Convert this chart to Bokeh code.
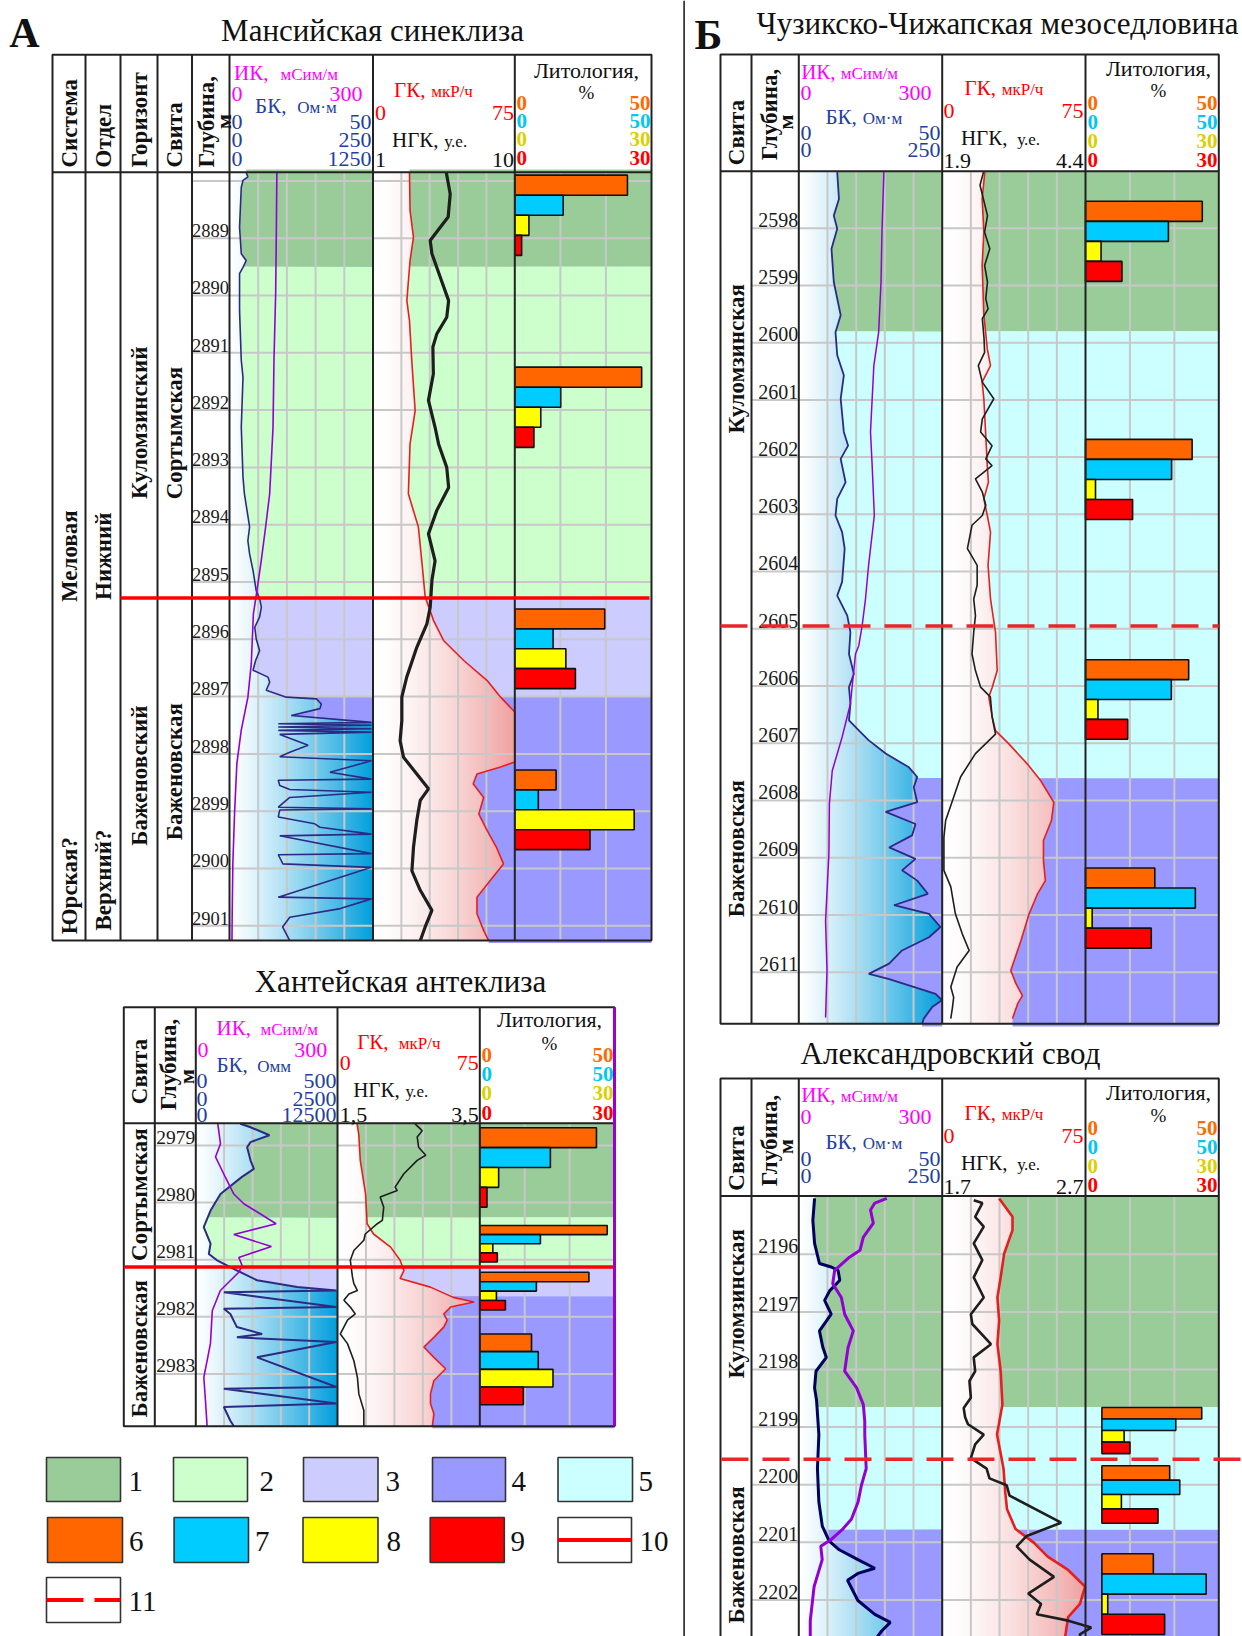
import numpy as np
from bokeh.plotting import figure
from bokeh.models import Range1d
from bokeh.embed import file_html
from bokeh.resources import INLINE
from bokeh.core.properties import value

# ======================= DATA =======================
FACIES_COLORS = {1: "#99CC99", 2: "#CCFFCC", 3: "#CCCCFF", 4: "#9999FF", 5: "#CCFFFF"}
LITHO_COLORS = ["#FF6600", "#00CCFF", "#FFFF00", "#FF0000"]
LEGEND_LABELS = ["1", "2", "3", "4", "5", "6", "7", "8", "9", "10", "11"]

# ---- A: Мансийская синеклиза
A_TITLE = "Мансийская синеклиза"
A_IK_SCALE = (0, 300)
A_BK_SCALES = [(0, 50), (0, 250), (0, 1250)]
A_GK_SCALE = (0, 75)
A_NGK_SCALE = (1, 10)
A_TICKS = list(range(2888, 2902))
A_LABELS = list(range(2889, 2902))
A_FACIES = [(2887.8, 2889.5, 1), (2889.5, 2895.28, 2), (2895.28, 2897.0, 3), (2897.0, 2901.3, 4)]
A_BOUNDARY = 2895.28
A_BK_FULL_FROM = 2897.45
A_IK_D = [2887.85, 2888.81, 2889.97, 2891.13, 2892.30, 2893.46, 2894.04, 2894.62, 2895.15, 2895.55,
          2896.43, 2897.01, 2897.59, 2898.17, 2899.05, 2899.92, 2900.79, 2901.26]
A_IK = [99, 98, 96.5, 93, 91, 84, 75.5, 66.5, 57.4, 50, 45.5, 38.5, 24.5, 15.4, 10.5, 7, 5.6, 5.2]
A_BK_D = [2887.85, 2887.93, 2887.99, 2888.11, 2888.81, 2889.27, 2889.39, 2889.51, 2889.62, 2890.26,
          2891.13, 2891.43, 2892.30, 2893.17, 2893.46, 2894.04, 2894.28, 2894.51, 2894.80, 2895.15,
          2895.29, 2895.44, 2895.61, 2895.79, 2895.99, 2896.20, 2896.37, 2896.54, 2896.66, 2896.75,
          2896.89, 2897.01, 2897.04, 2897.13, 2897.21, 2897.33, 2897.45,
          2897.475, 2897.50, 2897.53, 2897.56, 2897.59, 2897.62, 2897.66, 2897.77, 2897.85, 2897.97,
          2898.05, 2898.12, 2898.32, 2898.44, 2898.46, 2898.55, 2898.62, 2898.67, 2898.76, 2898.93,
          2898.96, 2898.98, 2899.10, 2899.22, 2899.28, 2899.40, 2899.43, 2899.74, 2899.76, 2899.92,
          2899.98, 2900.50, 2900.53, 2900.70, 2900.85, 2901.02, 2901.26]
A_BK = [5.8, 6.4, 4.7, 4.1, 3.5, 4.1, 5.8, 4.7, 3.5, 3.5,
        4.1, 4.7, 4.1, 4.7, 5.2, 7.0, 6.4, 7.0, 8.2, 9.3,
        10.5, 11.1, 10.5, 8.8, 9.3, 10.5, 9.1, 8.2, 13.4, 14.0,
        12.8, 19.8, 30.3, 32.0, 31.5, 21.5, 49.5,
        17.0, 49.5, 17.0, 49.5, 17.0, 49.5, 17.5, 23.3, 27.4, 21.0,
        17.5, 49.5, 35.0, 49.5, 17.0, 17.5, 21.0, 49.5, 21.0, 17.0,
        49.5, 17.5, 17.0, 29.7, 31.5, 49.5, 17.5, 49.5, 17.0, 18.6,
        49.5, 17.0, 49.5, 38.6, 21.0, 18.5, 21.0]
A_GK_D = [2887.85, 2888.52, 2888.98, 2889.39, 2890.09, 2890.44, 2891.13, 2892.01, 2892.59, 2893.46,
          2894.04, 2894.63, 2895.26, 2895.67, 2896.02, 2896.37, 2896.72, 2897.01, 2897.27, 2898.14,
          2898.23, 2898.35, 2898.52, 2898.76, 2899.05, 2899.34, 2899.63, 2899.92, 2900.21, 2900.50,
          2900.79, 2901.08, 2901.26]
A_GK = [19.3, 19.6, 21.4, 19.6, 17.9, 19.3, 20.5, 22.3, 19.6, 18.7,
        24.0, 25.8, 27.6, 32.0, 37.3, 48.0, 60.4, 67.5, 75.0, 75.0,
        67.5, 55.0, 53.0, 58.5, 56.0, 60.4, 65.3, 69.0, 62.0, 55.0,
        55.0, 58.5, 61.2]
A_NGK_D = [2887.85, 2888.23, 2888.63, 2888.81, 2889.04, 2889.27, 2889.68, 2890.09, 2890.38, 2890.67,
           2890.90, 2891.37, 2891.83, 2892.30, 2892.59, 2893.00, 2893.35, 2893.75, 2894.16, 2894.63,
           2894.97, 2895.44, 2895.73, 2896.14, 2896.66, 2897.01, 2897.42, 2897.77, 2898.06, 2898.35,
           2898.61, 2898.81, 2899.16, 2899.63, 2900.04, 2900.38, 2900.73, 2901.02, 2901.26]
A_NGK = [5.65, 5.90, 5.77, 5.27, 4.63, 4.74, 5.27, 5.80, 5.68, 5.05,
         4.80, 4.83, 4.52, 4.94, 5.16, 5.68, 5.80, 5.05, 4.52, 4.94,
         4.74, 4.63, 4.42, 3.78, 3.14, 2.83, 2.83, 2.72, 2.94, 3.78,
         4.52, 4.00, 3.78, 3.57, 3.47, 4.00, 4.74, 4.31, 4.00]
A_LI_TOP = [2887.90, 2891.25, 2895.47, 2898.28]
A_LI_BOT = [2889.30, 2892.65, 2896.86, 2899.67]
A_ORANGE = [41.2, 46.4, 32.9, 15.1]
A_CYAN = [17.7, 16.8, 14.0, 8.6]
A_YELLOW = [3.1, 5.7, 11.2, 26.2]
A_RED = [1.5, 4.2, 13.3, 16.5]

# ---- K: Хантейская антеклиза
K_TITLE = "Хантейская антеклиза"
K_IK_SCALE = (0, 300)
K_BK_SCALES = [(0, 500), (0, 2500), (0, 12500)]
K_GK_SCALE = (0, 75)
K_NGK_SCALE = (1.5, 3.5)
K_TICKS = [2979, 2980, 2981, 2982, 2983]
K_LABELS = [2979, 2980, 2981, 2982, 2983]
K_FACIES = [(2978.6, 2980.26, 1), (2980.26, 2981.13, 2), (2981.13, 2981.64, 3), (2981.64, 2983.95, 4)]
K_BOUNDARY = 2981.13
K_BK_FULL_FROM = 2981.54
K_IK_D = [2978.62, 2978.97, 2979.20, 2979.56, 2979.85, 2980.02, 2980.20, 2980.37, 2980.56, 2980.77,
          2980.96, 2981.10, 2981.22, 2981.54, 2981.89, 2982.47, 2983.06, 2983.47, 2983.92]
K_IK = [46.6, 52.3, 41.7, 62.8, 80.5, 101.7, 137, 170, 80.5, 160, 91, 98, 91, 52, 35, 31, 17, 20.5, 24]
K_BK_D = [2978.62, 2978.68, 2978.82, 2978.94, 2979.03, 2979.26, 2979.41, 2979.55, 2979.85, 2980.14,
          2980.43, 2980.72, 2980.90, 2981.01, 2981.19, 2981.36, 2981.48, 2981.54, 2981.57, 2981.83,
          2981.86, 2981.95, 2982.18, 2982.30, 2982.36, 2982.44, 2982.71, 2983.23, 2983.26, 2983.52,
          2983.58, 2983.82, 2983.92]
K_BK = [157, 193, 260, 193, 181, 193, 205, 163, 87, 52,
        28, 52, 46, 75, 146, 216, 358, 496, 99, 496,
        99, 122, 145, 234, 145, 496, 216, 496, 99, 496,
        99, 122, 135]
K_GK_D = [2978.62, 2978.80, 2979.26, 2979.85, 2980.37, 2980.55, 2980.78, 2981.01, 2981.19, 2981.33,
          2981.48, 2981.66, 2981.74, 2981.83, 2981.95, 2982.06, 2982.18, 2982.36, 2982.53, 2982.71,
          2982.91, 2983.12, 2983.35, 2983.52, 2983.70, 2983.92]
K_GK = [10.3, 11.2, 12.0, 14.8, 15.6, 19.0, 28.0, 33.0, 35.0, 33.0,
        49.0, 61.0, 72.0, 59.6, 56.0, 57.8, 56.0, 50.8, 45.5, 50.8,
        57.0, 50.8, 49.0, 49.0, 50.8, 50.0]
K_NGK_D = [2978.62, 2978.74, 2978.85, 2979.03, 2979.17, 2979.26, 2979.50, 2979.73, 2979.79, 2979.90,
           2980.08, 2980.31, 2980.37, 2980.55, 2980.66, 2980.84, 2981.01, 2981.30, 2981.42, 2981.54,
           2981.60, 2981.71, 2981.83, 2981.95, 2982.06, 2982.30, 2982.47, 2982.77, 2983.06, 2983.35,
           2983.64, 2983.92]
K_NGK = [2.59, 2.69, 2.62, 2.64, 2.74, 2.62, 2.43, 2.31, 2.34, 2.10,
         2.15, 2.13, 2.06, 1.89, 1.87, 1.73, 1.68, 1.71, 1.73, 1.78,
         1.66, 1.59, 1.68, 1.75, 1.64, 1.54, 1.64, 1.73, 1.78, 1.80,
         1.87, 1.87]
K_LI_TOP = [2978.69, 2980.40, 2981.22, 2982.30]
K_LI_BOT = [2980.08, 2981.04, 2981.88, 2983.54]
K_ORANGE = [43.3, 47.3, 40.5, 19.2]
K_CYAN = [26.2, 22.5, 21.0, 21.7]
K_YELLOW = [4.2, 2.9, 3.7, 16.3]
K_RED = [1.6, 3.9, 5.7, 9.7]

# ---- B: Чузикско-Чижапская мезоседловина
B_TITLE = "Чузикско-Чижапская мезоседловина"
B_IK_SCALE = (0, 300)
B_BK_SCALES = [(0, 50), (0, 250)]
B_GK_SCALE = (0, 75)
B_NGK_SCALE = (1.9, 4.4)
B_TICKS = list(range(2598, 2612))
B_LABELS = list(range(2598, 2612))
B_FACIES = [(2597.0, 2599.8, 1), (2599.8, 2607.61, 5), (2607.61, 2611.95, 4)]
B_BOUNDARY = 2604.95
B_IK_D = [2597.02, 2598.07, 2598.94, 2599.82, 2600.40, 2600.98, 2601.56, 2602.15, 2603.02, 2603.89,
          2604.48, 2604.94, 2605.29, 2605.44, 2606.31, 2606.89, 2607.48, 2608.06, 2608.93, 2610.10,
          2610.97, 2611.79]
B_IK = [178, 174, 172, 167, 157, 153.5, 150, 153.5, 158, 146,
        139.5, 132.6, 125.6, 118.6, 108, 90.7, 70, 64, 63, 56,
        59, 56]
B_BK_D = [2597.02, 2597.49, 2597.78, 2598.01, 2598.36, 2598.94, 2599.52, 2599.82, 2600.22, 2600.57,
          2600.98, 2601.56, 2601.80, 2602.03, 2602.44, 2602.73, 2603.02, 2603.31, 2603.60, 2604.18,
          2604.42, 2604.77, 2605.06, 2605.44, 2605.79, 2606.02, 2606.31, 2606.60, 2606.78, 2606.95,
          2607.18, 2607.42, 2607.59, 2607.77, 2608.03, 2608.20, 2608.41, 2608.61, 2608.82, 2609.02,
          2609.22, 2609.40, 2609.63, 2609.83, 2609.98, 2610.21, 2610.39, 2610.62, 2610.85, 2611.03,
          2611.12, 2611.38, 2611.49, 2611.61, 2611.81, 2611.90]
B_BK = [13.4, 14.0, 12.2, 13.4, 11.4, 12.2, 14.6, 12.8, 13.4, 15.7,
        14.6, 15.7, 17.2, 14.6, 16.3, 13.4, 12.8, 15.1, 16.0, 15.1,
        13.4, 16.9, 18.0, 17.5, 19.2, 17.5, 18.0, 17.5, 21.0, 24.4,
        30.3, 38.4, 41.3, 40.1, 41.3, 30.3, 40.7, 39.5, 31.5, 40.7,
        36.0, 41.3, 45.0, 33.2, 45.4, 49.4, 45.4, 36.0, 31.5, 24.4,
        31.5, 47.7, 49.9, 46.5, 43.6, 43.0]
B_GK_D = [2597.02, 2597.49, 2598.07, 2598.65, 2599.52, 2600.11, 2600.40, 2600.69, 2600.98, 2601.56,
          2602.15, 2602.44, 2602.73, 2603.02, 2603.31, 2603.89, 2604.48, 2605.06, 2605.73, 2606.02,
          2606.19, 2606.54, 2606.78, 2607.01, 2607.36, 2607.65, 2608.03, 2608.35, 2608.70, 2609.05,
          2609.40, 2609.63, 2609.98, 2610.45, 2610.97, 2611.20, 2611.41, 2611.55, 2611.81]
B_GK = [22.3, 20.9, 21.8, 20.9, 21.8, 23.6, 25.3, 20.9, 21.8, 22.7,
        23.6, 24.2, 21.8, 23.6, 25.3, 24.0, 25.3, 27.9, 28.8, 26.2,
        24.4, 26.2, 27.9, 34.9, 44.5, 51.5, 58.4, 57.2, 53.0, 53.0,
        54.0, 49.9, 45.5, 41.2, 35.9, 38.6, 42.0, 39.5, 36.8]
B_NGK_D = [2597.02, 2597.25, 2597.78, 2598.07, 2598.36, 2598.65, 2598.94, 2599.23, 2599.41, 2599.58,
           2599.93, 2600.17, 2600.40, 2600.69, 2600.98, 2601.33, 2601.56, 2601.80, 2602.03, 2602.15,
           2602.38, 2602.61, 2602.84, 2603.02, 2603.19, 2603.60, 2603.89, 2604.24, 2604.48, 2604.77,
           2605.06, 2605.44, 2605.73, 2606.02, 2606.19, 2606.54, 2606.84, 2607.18, 2607.59, 2608.00,
           2608.35, 2608.64, 2609.22, 2609.51, 2609.98, 2610.33, 2610.62, 2610.91, 2611.26, 2611.44,
           2611.61, 2611.81]
B_NGK = [2.62, 2.56, 2.69, 2.64, 2.73, 2.64, 2.69, 2.66, 2.70, 2.60,
         2.63, 2.64, 2.53, 2.60, 2.80, 2.60, 2.57, 2.77, 2.66, 2.77,
         2.48, 2.60, 2.66, 2.60, 2.42, 2.34, 2.51, 2.51, 2.45, 2.48,
         2.45, 2.42, 2.48, 2.57, 2.74, 2.77, 2.83, 2.48, 2.22, 2.08,
         1.96, 1.93, 1.93, 2.05, 2.13, 2.25, 2.37, 2.16, 2.05, 2.10,
         2.08, 2.05]
B_LI_TOP = [2597.53, 2601.69, 2605.54, 2609.18]
B_LI_BOT = [2598.93, 2603.09, 2606.93, 2610.58]
B_ORANGE = [43.8, 40.0, 38.7, 26.0]
B_CYAN = [31.1, 32.3, 32.2, 41.2]
B_YELLOW = [3.5, 2.25, 2.8, 1.5]
B_RED = [8.2, 10.6, 9.5, 14.8]

# ---- C: Александровский свод
C_TITLE = "Александровский свод"
C_IK_SCALE = (0, 300)
C_BK_SCALES = [(0, 50), (0, 250)]
C_GK_SCALE = (0, 75)
C_NGK_SCALE = (1.7, 2.7)
C_TICKS = list(range(2196, 2204))
C_LABELS = list(range(2196, 2203))
C_FACIES = [(2195.0, 2198.65, 1), (2198.65, 2200.78, 5), (2200.78, 2203.9, 4)]
C_BOUNDARY = 2199.56
C_IK_D = [2195.03, 2195.11, 2195.23, 2195.46, 2195.70, 2195.93, 2196.05, 2196.28, 2196.51, 2196.75,
          2197.04, 2197.33, 2197.62, 2198.03, 2198.32, 2198.61, 2198.90, 2199.13, 2199.72, 2200.01,
          2200.30, 2200.60, 2200.77, 2200.95, 2201.07, 2201.30, 2201.77, 2202.36, 2202.70]
C_IK = [184, 159, 150, 156, 135, 128, 106, 75, 71, 89,
        96, 114, 103, 96, 121, 135, 138, 138, 141, 131,
        124, 110, 92, 68, 46, 49, 32, 24, 24]
C_BK_D = [2195.03, 2195.41, 2195.81, 2196.16, 2196.22, 2196.28, 2196.45, 2196.63, 2196.80, 2197.04,
          2197.33, 2197.62, 2197.79, 2198.03, 2198.32, 2198.54, 2199.13, 2199.72, 2200.30, 2200.72,
          2200.98, 2201.13, 2201.30, 2201.45, 2201.54, 2201.66, 2202.01, 2202.25, 2202.39, 2202.54,
          2202.70]
C_BK = [5.5, 4.9, 5.5, 7.2, 11.3, 13.7, 14.3, 10.8, 9.0, 11.3,
        7.2, 8.4, 9.6, 6.0, 5.5, 6.2, 7.0, 6.5, 7.0, 8.2,
        10.6, 14.1, 20.6, 26.5, 20.6, 17.0, 20.6, 26.5, 31.9, 28.9,
        26.5]
C_GK_D = [2195.03, 2195.35, 2195.58, 2195.99, 2196.40, 2196.75, 2197.15, 2197.56, 2198.03, 2198.61,
          2199.13, 2199.72, 2200.13, 2200.42, 2200.77, 2201.01, 2201.25, 2201.48, 2201.77, 2202.07,
          2202.30, 2202.70]
C_GK = [29.8, 36.8, 36.8, 32.4, 30.6, 28.9, 29.8, 28.9, 30.6, 31.5,
        28.7, 32.1, 33.0, 33.9, 38.4, 48.1, 55.2, 65.9, 74.8, 72.1,
        65.9, 64.1]
C_NGK_D = [2195.06, 2195.11, 2195.35, 2195.52, 2195.81, 2196.10, 2196.40, 2196.75, 2197.04, 2197.21,
           2197.56, 2197.79, 2198.03, 2198.20, 2198.49, 2198.67, 2198.83, 2198.95, 2199.13, 2199.30,
           2199.54, 2199.72, 2199.89, 2200.01, 2200.19, 2200.66, 2200.89, 2201.07, 2201.30, 2201.60,
           2201.89, 2202.07, 2202.25, 2202.36, 2202.48, 2202.60, 2202.70]
C_NGK = [1.92, 1.98, 1.93, 1.99, 1.92, 1.98, 1.92, 1.99, 1.90, 1.91,
         2.04, 1.92, 1.93, 1.89, 1.90, 1.85, 1.86, 1.88, 1.99, 1.93,
         1.90, 2.01, 2.03, 2.15, 2.17, 2.53, 2.29, 2.22, 2.31, 2.48,
         2.30, 2.39, 2.36, 2.58, 2.74, 2.66, 2.67]
C_LI_TOP = [2198.66, 2199.67, 2201.20]
C_LI_BOT = [2199.46, 2200.67, 2202.60]
C_ORANGE = [42.7, 29.0, 22.0]
C_CYAN = [31.6, 33.3, 44.6]
C_YELLOW = [5.7, 5.0, 1.5]
C_RED = [7.2, 14.4, 16.1]

# ======================= FIGURE =======================
W, H = 1242, 1636
FONT = "Liberation Serif"
MAG, BLU, RED, BLK = "#FF00FF", "#1E40A0", "#FF0000", "#111111"
NUMC = ["#FF6A00", "#00C8F0", "#DCD000", "#FF0000"]
GRID = "#C8C8C8"
EDGE = "#222222"
MID = 0.34  # em offset from alphabetic baseline to the em-box middle

p = figure(width=W, height=H, x_range=Range1d(0, W), y_range=Range1d(H, 0),
           toolbar_location=None, output_backend="svg", min_border=0,
           x_axis_location=None, y_axis_location=None)
p.xgrid.visible = False
p.ygrid.visible = False
p.outline_line_color = None
p.background_fill_color = "white"
p.border_fill_color = "white"

XR, YR = {}, {}


def xrange(a, b, v0, v1):
    k = (v1 - v0) / (b - a)
    return Range1d(start=v0 - a * k, end=v0 + (W - a) * k)


def yrange(y0, d0, ppm):
    return Range1d(start=d0 + (H - y0) / ppm, end=d0 + (0 - y0) / ppm)


def T(x, y, s, size, color=BLK, align="left", base="alphabetic", bold=False, angle=0.0, **kw):
    # baseline positions are converted to em-box middles (rendered reliably)
    if base == "alphabetic":
        y = y - MID * size
        base = "middle"
    p.text(x=[x], y=[y], text=[s], text_font=value(FONT), text_font_size=f"{size}px",
           text_color=color, text_align=align, text_baseline=base,
           text_font_style="bold" if bold else "normal", angle=angle, **kw)


def hexc(rgb):
    return "#%02x%02x%02x" % tuple(int(round(max(0, min(255, c)))) for c in rgb)


def gradient(x0, x1, ytop, ybot, end_rgb, gamma, n=60):
    edges = np.linspace(x0, x1, n + 1)
    t = (np.arange(n) + 0.5) / n
    f = t ** gamma
    end = np.array(end_rgb, dtype=float)
    cols = [hexc(255 + fi * (end - 255)) for fi in f]
    rights = np.minimum(edges[1:] + 0.8, x1)
    p.quad(left=edges[:-1], right=rights, top=ytop, bottom=ybot, fill_color=cols, line_color=None)


def seg(ds, vs, d0, d1):
    ds = np.asarray(ds, float)
    vs = np.asarray(vs, float)
    inner = ds[(ds > d0) & (ds < d1)]
    yy = np.concatenate([[d0], inner, [d1]])
    return yy, np.interp(yy, ds, vs)


def panel(key, L, D):
    yn = key + "_y"
    YR[yn] = yrange(L["y0"], L["d0"], L["ppm"])
    ik0, ik1 = L["ik"]
    gk0, gk1 = L["gk"]
    li0, li1 = L["li"]
    bk_max = D["bk_scales"][0][1]
    XR[key + "_ik"] = xrange(ik0, ik1, *D["ik_scale"])
    XR[key + "_bk"] = xrange(ik0, ik1, *D["bk_scales"][0])
    XR[key + "_gk"] = xrange(gk0, gk1, *D["gk_scale"])
    XR[key + "_ngk"] = xrange(gk0, gk1, *D["ngk_scale"])
    XR[key + "_l50"] = xrange(L["lz"], li1, 0, 50)
    XR[key + "_l30"] = xrange(L["lz"], li1, 0, 30)
    top, bot = L["hdr"], L["bot"]

    gradient(ik0, ik1, top, bot, (0, 158, 220), 1.2)
    gradient(gk0, gk1, top, bot, (240, 160, 160), 1.5)

    bk_d = np.asarray(D["bk_d"], float)
    bk_env = np.asarray(D["bk"], float)
    if D.get("bk_full") is not None:
        bk_env = np.where(bk_d >= D["bk_full"], bk_max, bk_env)
    for d0, d1, c in D["facies"]:
        col = FACIES_COLORS[c]
        yy, xx = seg(bk_d, bk_env, d0, d1)
        p.harea(y=yy, x1=xx, x2=np.full_like(xx, bk_max), fill_color=col,
                x_range_name=key + "_bk", y_range_name=yn)
        yy, xx = seg(D["gk_d"], D["gk"], d0, d1)
        p.harea(y=yy, x1=xx, x2=np.full_like(xx, D["gk_scale"][1]), fill_color=col,
                x_range_name=key + "_gk", y_range_name=yn)
        p.quad(left=li0, right=li1, top=d0, bottom=d1, fill_color=col, line_color=None,
               y_range_name=yn)

    vx = list(np.linspace(ik0, ik1, 6)[1:-1]) + list(np.linspace(gk0, gk1, 6)[1:-1]) + \
        list(np.linspace(li0, li1, 4)[1:-1])
    p.segment(x0=vx, y0=[top] * len(vx), x1=vx, y1=[bot] * len(vx), line_color=GRID, line_width=2)
    ticks = D["ticks"]
    p.segment(x0=[L["dep"][0]] * len(ticks), y0=ticks, x1=[L["out"][1]] * len(ticks), y1=ticks,
              line_color=GRID, line_width=2, y_range_name=yn)

    lw = L["lw"]
    p.line(x=D["bk"], y=D["bk_d"], line_color=L["bkc"], line_width=lw[0],
           x_range_name=key + "_bk", y_range_name=yn)
    p.line(x=D["ik"], y=D["ik_d"], line_color="#9400D3", line_width=lw[1],
           x_range_name=key + "_ik", y_range_name=yn)
    p.line(x=D["gk"], y=D["gk_d"], line_color="#E81E1E", line_width=lw[2],
           x_range_name=key + "_gk", y_range_name=yn)
    p.line(x=D["ngk"], y=D["ngk_d"], line_color="#1E1E1E", line_width=lw[3],
           x_range_name=key + "_ngk", y_range_name=yn)

    tops = np.asarray(D["li_top"], float)
    bots = np.asarray(D["li_bot"], float)
    h = (bots - tops) / 4.0
    for i, (vals, rn) in enumerate([(D["orange"], "_l50"), (D["cyan"], "_l50"),
                                    (D["yellow"], "_l30"), (D["red"], "_l30")]):
        p.quad(left=[0] * len(vals), right=vals, top=tops + i * h, bottom=tops + (i + 1) * h,
               fill_color=LITHO_COLORS[i], line_color="#111111", line_width=1.6,
               x_range_name=key + rn, y_range_name=yn)

    x_a, x_b = L["out"]
    p.quad(left=x_a, right=x_b, top=L["top"], bottom=bot, fill_color=None,
           line_color=EDGE, line_width=2)
    p.segment(x0=[x_a], y0=[top], x1=[x_b], y1=[top], line_color=EDGE, line_width=2)
    cx = L["cols"]
    p.segment(x0=cx, y0=[L["top"]] * len(cx), x1=cx, y1=[bot] * len(cx),
              line_color=EDGE, line_width=2)

    labs = D["labels"]
    fs = L["dfs"]
    p.text(x=[L["dep"][1] - 0.5] * len(labs), y=[d - (1.5 + MID * fs) / L["ppm"] for d in labs],
           text=[str(d) for d in labs], text_font=value(FONT), text_font_size=f"{fs}px",
           text_color="#1a1a1a", text_align="right", text_baseline="middle",
           y_range_name=yn)


LAY = {
    "A": dict(out=(52, 651), top=54.3, hdr=171.7, bot=940, cols=[85, 120, 157, 191.5, 229, 372.5, 514.3],
              dep=(191.5, 229), ik=(229, 372.5), gk=(372.5, 514.3), li=(514.3, 651), lz=514.3,
              y0=237.7, d0=2889, ppm=57.3, lw=(1.6, 1.6, 1.6, 3.2), bkc="#2B2B85", dfs=18.5),
    "K": dict(out=(123.3, 614), top=1006.7, hdr=1122.7, bot=1425.7, cols=[154.3, 195.3, 337, 479.3],
              dep=(154.3, 195.3), ik=(195.3, 337), gk=(337, 479.3), li=(479.3, 614), lz=479.3,
              y0=1145, d0=2979, ppm=57.1, lw=(2.0, 1.6, 1.6, 1.6), bkc="#2B2B85", dfs=19.5),
    "B": dict(out=(720, 1218.3), top=54, hdr=170.7, bot=1023.3, cols=[751, 798.3, 941.7, 1085],
              dep=(751, 798.3), ik=(798.3, 941.7), gk=(941.7, 1085), li=(1085, 1218.3), lz=1085,
              y0=227.7, d0=2598, ppm=57.23, lw=(1.8, 1.5, 1.6, 1.6), bkc="#2B2B85", dfs=20),
    "C": dict(out=(720, 1218.3), top=1078, hdr=1195.4, bot=1660, cols=[751, 798.3, 941.7, 1085],
              dep=(751, 798.3), ik=(798.3, 941.7), gk=(941.7, 1085), li=(1085, 1218.3), lz=1101.4,
              y0=1253.8, d0=2196, ppm=57.6, lw=(3.0, 3.0, 2.6, 2.6), bkc="#00005E", dfs=20),
}

DATA = {
    "A": dict(ik_scale=A_IK_SCALE, bk_scales=A_BK_SCALES, gk_scale=A_GK_SCALE, ngk_scale=A_NGK_SCALE,
              ticks=A_TICKS, labels=A_LABELS, facies=A_FACIES, bk_full=A_BK_FULL_FROM,
              ik_d=A_IK_D, ik=A_IK, bk_d=A_BK_D, bk=A_BK, gk_d=A_GK_D, gk=A_GK, ngk_d=A_NGK_D, ngk=A_NGK,
              li_top=A_LI_TOP, li_bot=A_LI_BOT, orange=A_ORANGE, cyan=A_CYAN, yellow=A_YELLOW, red=A_RED),
    "K": dict(ik_scale=K_IK_SCALE, bk_scales=K_BK_SCALES, gk_scale=K_GK_SCALE, ngk_scale=K_NGK_SCALE,
              ticks=K_TICKS, labels=K_LABELS, facies=K_FACIES, bk_full=K_BK_FULL_FROM,
              ik_d=K_IK_D, ik=K_IK, bk_d=K_BK_D, bk=K_BK, gk_d=K_GK_D, gk=K_GK, ngk_d=K_NGK_D, ngk=K_NGK,
              li_top=K_LI_TOP, li_bot=K_LI_BOT, orange=K_ORANGE, cyan=K_CYAN, yellow=K_YELLOW, red=K_RED),
    "B": dict(ik_scale=B_IK_SCALE, bk_scales=B_BK_SCALES, gk_scale=B_GK_SCALE, ngk_scale=B_NGK_SCALE,
              ticks=B_TICKS, labels=B_LABELS, facies=B_FACIES, bk_full=None,
              ik_d=B_IK_D, ik=B_IK, bk_d=B_BK_D, bk=B_BK, gk_d=B_GK_D, gk=B_GK, ngk_d=B_NGK_D, ngk=B_NGK,
              li_top=B_LI_TOP, li_bot=B_LI_BOT, orange=B_ORANGE, cyan=B_CYAN, yellow=B_YELLOW, red=B_RED),
    "C": dict(ik_scale=C_IK_SCALE, bk_scales=C_BK_SCALES, gk_scale=C_GK_SCALE, ngk_scale=C_NGK_SCALE,
              ticks=C_TICKS, labels=C_LABELS, facies=C_FACIES, bk_full=None,
              ik_d=C_IK_D, ik=C_IK, bk_d=C_BK_D, bk=C_BK, gk_d=C_GK_D, gk=C_GK, ngk_d=C_NGK_D, ngk=C_NGK,
              li_top=C_LI_TOP, li_bot=C_LI_BOT, orange=C_ORANGE, cyan=C_CYAN, yellow=C_YELLOW, red=C_RED),
}

for k in ["A", "K", "B", "C"]:
    panel(k, LAY[k], DATA[k])

# boundary lines
p.segment(x0=[120], y0=[A_BOUNDARY], x1=[649], y1=[A_BOUNDARY], line_color="#FF0000",
          line_width=3.5, y_range_name="A_y")
p.segment(x0=[123.3], y0=[K_BOUNDARY], x1=[614], y1=[K_BOUNDARY], line_color="#FF0000",
          line_width=3.5, y_range_name="K_y")
p.segment(x0=[720], y0=[B_BOUNDARY], x1=[1218.3], y1=[B_BOUNDARY], line_color="#E8262C",
          line_width=3.5, line_dash="27 14", y_range_name="B_y")
p.segment(x0=[721], y0=[C_BOUNDARY], x1=[1242], y1=[C_BOUNDARY], line_color="#E8262C",
          line_width=3.5, line_dash="27 14", y_range_name="C_y")

p.segment(x0=[614], y0=[1006.7], x1=[614], y1=[1425.7], line_color="#9900CC", line_width=3)
p.segment(x0=[683.6], y0=[0], x1=[683.6], y1=[1640], line_color="#222222", line_width=1.6)

# ---------------- titles ----------------
T(24, 47, "А", 42, bold=True, align="center")
T(372, 41, A_TITLE, 31, align="center")
T(708, 49, "Б", 42, bold=True, align="center")
T(997, 34, B_TITLE, 31, align="center")
T(400, 992, K_TITLE, 31, align="center")
T(950, 1064, C_TITLE, 31, align="center")

R90 = np.pi / 2

for x, s in [(68.5, "Система"), (102.5, "Отдел"), (138.5, "Горизонт"), (174.3, "Свита"), (206, "Глубина,")]:
    T(x, 167, s, 23, bold=True, angle=R90, align="left", base="middle")
T(222.5, 121, "м", 22, bold=True, angle=R90, align="center", base="middle")
T(138.8, 1071, "Свита", 23, bold=True, angle=R90, align="center", base="middle")
T(167.5, 1064, "Глубина,", 23, bold=True, angle=R90, align="center", base="middle")
T(185.5, 1076, "м", 22, bold=True, angle=R90, align="center", base="middle")
for yS, yG, ym in [(132, 114, 121.5), (1157.5, 1140, 1146)]:
    T(735.5, yS, "Свита", 23, bold=True, angle=R90, align="center", base="middle")
    T(769.4, yG, "Глубина,", 23, bold=True, angle=R90, align="center", base="middle")
    T(785, ym, "м", 22, bold=True, angle=R90, align="center", base="middle")

LS, US = 21, 17  # label / unit font sizes


def track_header(ik_lab, bk_lab, bk_unit, ik_row, bk_rows, gk_lab, ngk_row, li_lab, li_rows,
                 ik_scale, bk_scales, gk_scale, ngk_txt):
    x, xu, y = ik_lab
    T(x, y, "ИК,", LS, MAG)
    T(max(xu, x + 1.69 * LS + 4), y, "мСим/м", US, MAG)
    xl, xr, y = ik_row
    T(xl, y, str(ik_scale[0]), 22, MAG)
    T(xr, y, str(ik_scale[1]), 22, MAG, align="right")
    x, xu, y = bk_lab
    T(x, y, "БК,", LS, BLU)
    T(max(xu, x + 1.58 * LS + 4), y, bk_unit, US, BLU)
    xl, xr, ys = bk_rows
    for (a, b), yy in zip(bk_scales, ys):
        T(xl, yy, str(a), 22, BLU)
        T(xr, yy, str(b), 22, BLU, align="right")
    x, xu, y, xl, xr, y2 = gk_lab
    T(x, y, "ГК,", LS, RED)
    T(max(xu, x + 1.58 * LS + 4), y, "мкР/ч", US, RED)
    T(xl, y2, str(gk_scale[0]), 22, RED)
    T(xr, y2, str(gk_scale[1]), 22, RED, align="right")
    x, xu, y, y2 = ngk_row
    T(x, y, "НГК,", LS)
    T(max(xu, x + 2.3 * LS + 4), y, "у.е.", US)
    T(xl, y2, ngk_txt[0], 22)
    T(xr, y2, ngk_txt[1], 22, align="right")
    xc, y1, y2 = li_lab
    T(xc, y1, "Литология,", 22, align="center")
    T(xc, y2, "%", 19, align="center")
    xl, xr, ys = li_rows
    for c, hi, yy in zip(NUMC, ["50", "50", "30", "30"], ys):
        T(xl, yy, "0", 21, c, bold=True)
        T(xr, yy, hi, 21, c, bold=True, align="right")


track_header((233.6, 280, 80), (254.6, 296.7, 113), "Ом·м", (231, 362, 101), (231, 371, [129, 147, 166]),
             (393.5, 429.3, 97, 374.5, 513.5, 120), (391.5, 437.7, 147, 167), (586, 77, 98),
             (516, 650, [110, 127.5, 146, 165]), A_IK_SCALE, A_BK_SCALES, A_GK_SCALE, ("1", "10"))
track_header((216, 260, 1035), (216, 256.7, 1071.7), "Омм", (197, 326.7, 1056.7),
             (196, 336, [1088.3, 1105.7, 1121.7]),
             (356.7, 398.3, 1048.3, 339.3, 478.3, 1070), (352.7, 403.3, 1096.7, 1121.7), (549, 1026.7, 1049.3),
             (481, 613, [1061.7, 1080.7, 1100, 1119.3]), K_IK_SCALE, K_BK_SCALES, K_GK_SCALE, ("1,5", "3,5"))
track_header((800.7, 833.7, 78.3), (825, 858, 123.3), "Ом·м", (800, 931, 100), (800, 940, [140, 156.7]),
             (964, 998.6, 95, 943, 1083, 118.3), (960.4, 1016.7, 145, 168), (1158, 75, 96.7),
             (1087, 1217, [110, 128.3, 147.3, 166.7]), B_IK_SCALE, B_BK_SCALES, B_GK_SCALE, ("1.9", "4.4"))
track_header((800.7, 833.7, 1102), (825, 858, 1149), "Ом·м", (800, 931, 1124), (800, 940, [1166, 1183]),
             (964, 998.6, 1120, 943, 1083, 1143), (960.4, 1016.7, 1170, 1193.5), (1158, 1099, 1121),
             (1087, 1217, [1135, 1154, 1173, 1192]), C_IK_SCALE, C_BK_SCALES, C_GK_SCALE, ("1.7", "2.7"))

STRAT = [
    ("A_y", 68.5, 2894.55, "Меловая"), ("A_y", 68.5, 2900.30, "Юрская?"),
    ("A_y", 102.5, 2894.55, "Нижний"), ("A_y", 102.5, 2900.20, "Верхний?"),
    ("A_y", 138.5, 2892.22, "Куломзинский"), ("A_y", 138.5, 2898.38, "Баженовский"),
    ("A_y", 174.3, 2892.40, "Сортымская"), ("A_y", 174.3, 2898.31, "Баженовская"),
    ("K_y", 138.8, 2979.86, "Сортымская"), ("K_y", 138.8, 2982.56, "Баженовская"),
    ("B_y", 735.5, 2600.28, "Куломзинская"), ("B_y", 735.5, 2608.84, "Баженовская"),
    ("C_y", 735.5, 2196.86, "Куломзинская"), ("C_y", 735.5, 2201.22, "Баженовская"),
]
for rn, x, d, s in STRAT:
    T(x, d, s, 23, bold=True, angle=R90, align="center", base="middle", y_range_name=rn)

# ---------------- legend ----------------
LEG_BOXES = [(46, 120, 1457, 1501), (173, 247, 1457, 1501), (303, 377.5, 1457, 1501),
             (432, 505, 1457, 1501), (557.5, 632, 1457, 1501),
             (47, 122, 1517, 1562), (173.6, 248, 1517, 1562), (302.5, 377.5, 1517, 1562),
             (429.7, 503.8, 1517, 1562), (557.5, 631, 1517, 1562),
             (46, 120, 1577, 1622)]
LEG_LABEL_X = [128, 259, 385, 511, 638, 128.5, 254.6, 386, 510, 639, 128]
LEG_FILLS = [FACIES_COLORS[i] for i in range(1, 6)] + LITHO_COLORS + ["white", "white"]
for (x0, x1, y0, y1), lx, fc, lab in zip(LEG_BOXES, LEG_LABEL_X, LEG_FILLS, LEGEND_LABELS):
    p.quad(left=x0, right=x1, top=y0, bottom=y1, fill_color=fc, line_color="#333333", line_width=1.6)
    T(lx, (y0 + y1) / 2 + 1.5, lab, 29, align="left", base="middle")
x0, x1, y0, y1 = LEG_BOXES[9]
p.segment(x0=[x0], y0=[(y0 + y1) / 2], x1=[x1], y1=[(y0 + y1) / 2], line_color="#FF0000", line_width=4)
x0, x1, y0, y1 = LEG_BOXES[10]
p.segment(x0=[x0], y0=[(y0 + y1) / 2], x1=[x1], y1=[(y0 + y1) / 2], line_color="#FF0000",
          line_width=4, line_dash="37 11")

p.extra_x_ranges = XR
p.extra_y_ranges = YR

open("out.html", "w").write(file_html(p, INLINE))
